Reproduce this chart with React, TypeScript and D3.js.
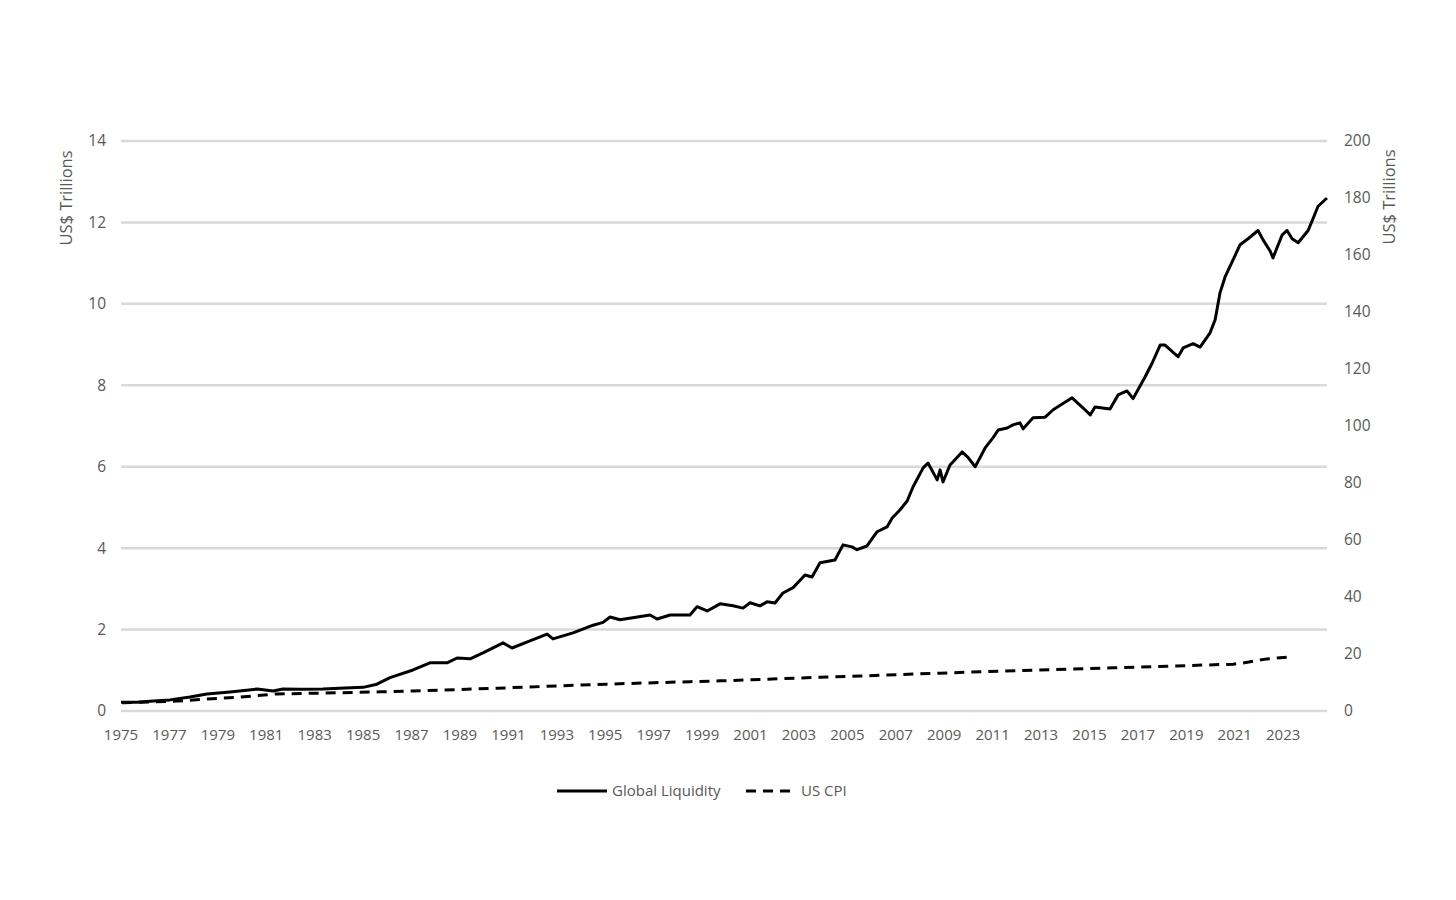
import React from "react";
import * as d3 from "d3";

// Global Liquidity (US$ trillions, right axis)
const glYears = [
  1975.0, 1975.66, 1976.2, 1977.02, 1977.85, 1978.55, 1979.5, 1980.62, 1981.28, 1981.69,
  1982.39, 1983.34, 1984.25, 1985.0, 1985.57, 1986.11, 1987.06, 1987.76, 1988.47, 1988.88,
  1989.42, 1989.95, 1990.78, 1991.15, 1991.89, 1992.6, 1992.84, 1993.67, 1994.5, 1994.91,
  1995.2, 1995.61, 1996.85, 1997.14, 1997.68, 1998.5, 1998.79, 1999.21, 1999.74, 2000.28,
  2000.69, 2000.98, 2001.39, 2001.68, 2002.01, 2002.34, 2002.76, 2003.25, 2003.54, 2003.87,
  2004.49, 2004.82, 2005.19, 2005.4, 2005.81, 2006.23, 2006.64, 2006.85, 2007.18, 2007.47,
  2007.71, 2008.13, 2008.33, 2008.71, 2008.83, 2008.95, 2009.24, 2009.74, 2009.99, 2010.28,
  2010.48, 2010.69, 2011.02, 2011.23, 2011.6, 2011.84, 2012.13, 2012.26, 2012.67, 2013.17,
  2013.5, 2014.28, 2014.74, 2015.03, 2015.23, 2015.85, 2016.18, 2016.55, 2016.8, 2017.3,
  2017.59, 2017.92, 2018.12, 2018.66, 2018.87, 2019.28, 2019.57, 2019.98, 2020.19, 2020.39,
  2020.6, 2020.93, 2021.22, 2021.55, 2021.96, 2022.17, 2022.46, 2022.58, 2022.96, 2023.16,
  2023.37, 2023.62, 2024.03, 2024.24, 2024.44, 2024.81,
];
const glValues = [
  3.1, 3.1, 3.4, 3.9, 4.9, 6.0, 6.7, 7.7, 7.0, 7.7,
  7.6, 7.7, 8.1, 8.3, 9.4, 11.7, 14.4, 16.9, 16.9, 18.6,
  18.3, 20.4, 23.9, 22.1, 24.6, 27.0, 25.3, 27.4, 30.1, 31.1,
  33.0, 32.0, 33.7, 32.3, 33.7, 33.7, 36.6, 35.1, 37.6, 36.9,
  36.1, 38.0, 36.9, 38.3, 37.9, 41.4, 43.3, 47.7, 47.0, 52.0,
  53.0, 58.3, 57.6, 56.6, 57.9, 62.9, 64.6, 67.7, 70.6, 73.7,
  78.6, 85.3, 87.0, 81.1, 84.6, 80.4, 86.3, 90.9, 88.9, 85.7,
  88.9, 92.3, 95.9, 98.6, 99.3, 100.4, 101.1, 99.0, 102.9, 103.1,
  105.7, 109.9, 106.3, 103.9, 106.7, 106.0, 110.9, 112.3, 109.6, 117.3,
  122.1, 128.4, 128.4, 124.3, 127.4, 128.9, 127.7, 132.7, 137.3, 146.7,
  152.3, 158.3, 163.6, 165.7, 168.6, 165.3, 161.4, 159.0, 167.1, 168.6,
  165.7, 164.3, 168.6, 172.9, 177.1, 180.0,
];

// US CPI (left axis)
const cpiYears = [
  1975.04, 1977.56, 1978.39, 1979.92, 1981.44, 1983.34, 1985.7, 1987.06, 1990.53, 1995.07,
  1998.5, 1999.74, 2003.87, 2005.52, 2008.83, 2011.31, 2015.97, 2020.93, 2021.34, 2022.33,
  2023.37,
];
const cpiValues = [
  0.2, 0.25, 0.29, 0.34, 0.42, 0.44, 0.47, 0.49, 0.56, 0.66,
  0.72, 0.74, 0.83, 0.86, 0.93, 0.98, 1.06, 1.15, 1.18, 1.28,
  1.33,
];

const leftTicks = [0, 2, 4, 6, 8, 10, 12, 14];
const rightTicks = [0, 20, 40, 60, 80, 100, 120, 140, 160, 180, 200];
const xTickYears = d3.range(1975, 2024, 2);

const seriesNames = ["Global Liquidity", "US CPI"];
const axisTitle = "US$ Trillions";

const W = 1456;
const H = 900;
const M = { left: 121, right: 1327, top: 141, bottom: 711 };
const FONT = "'Open Sans', 'Noto Sans', sans-serif";
const TEXT = "#595959";

export default function App() {
  const x = d3.scaleLinear().domain([1975, 2024.81]).range([M.left, M.right]);
  const yL = d3.scaleLinear().domain([0, 14]).range([M.bottom, M.top]);
  const yR = d3.scaleLinear().domain([0, 200]).range([M.bottom, M.top]);

  const glLine = d3
    .line<number>()
    .x((_, i) => x(glYears[i]))
    .y((d) => yR(d));
  const cpiLine = d3
    .line<number>()
    .x((_, i) => x(cpiYears[i]))
    .y((d) => yL(d));

  return (
    <svg
      width={W}
      height={H}
      style={{ position: "absolute", left: 0, top: 0, background: "#fff" }}
      fontFamily={FONT}
    >
      <rect x={0} y={0} width={W} height={H} fill="#fff" />
      {leftTicks.map((t) => (
        <line
          key={"g" + t}
          x1={M.left}
          x2={M.right}
          y1={yL(t)}
          y2={yL(t)}
          stroke="#d9d9d9"
          strokeWidth={2.5}
        />
      ))}
      {leftTicks.map((t) => (
        <text
          key={"l" + t}
          x={106}
          y={yL(t)}
          dy="0.35em"
          textAnchor="end"
          fontSize={15.5}
          fill={TEXT}
        >
          {t}
        </text>
      ))}
      {rightTicks.map((t) => (
        <text
          key={"r" + t}
          x={1344}
          y={yR(t)}
          dy="0.35em"
          textAnchor="start"
          fontSize={15.5}
          fill={TEXT}
        >
          {t}
        </text>
      ))}
      {xTickYears.map((yr) => (
        <text
          key={"x" + yr}
          x={x(yr)}
          y={735}
          dy="0.35em"
          textAnchor="middle"
          fontSize={15}
          fill={TEXT}
        >
          {yr}
        </text>
      ))}
      <text
        transform={`translate(66,198) rotate(-90)`}
        textAnchor="middle"
        dy="0.35em"
        fontSize={16.5}
        fill={TEXT}
      >
        {axisTitle}
      </text>
      <text
        transform={`translate(1389,197) rotate(-90)`}
        textAnchor="middle"
        dy="0.35em"
        fontSize={16.5}
        fill={TEXT}
      >
        {axisTitle}
      </text>

      <path
        d={cpiLine(cpiValues) || ""}
        fill="none"
        stroke="#000"
        strokeWidth={3}
        strokeDasharray="10,7"
      />
      <path
        d={glLine(glValues) || ""}
        fill="none"
        stroke="#000"
        strokeWidth={3}
        strokeLinejoin="round"
      />

      {/* legend */}
      <line x1={557} x2={607} y1={791} y2={791} stroke="#000" strokeWidth={3} />
      <text x={612} y={791} dy="0.35em" fontSize={15} fill={TEXT}>
        {seriesNames[0]}
      </text>
      <line
        x1={746}
        x2={796}
        y1={791}
        y2={791}
        stroke="#000"
        strokeWidth={3}
        strokeDasharray="10,7"
      />
      <text x={801} y={791} dy="0.35em" fontSize={15} fill={TEXT}>
        {seriesNames[1]}
      </text>
    </svg>
  );
}
